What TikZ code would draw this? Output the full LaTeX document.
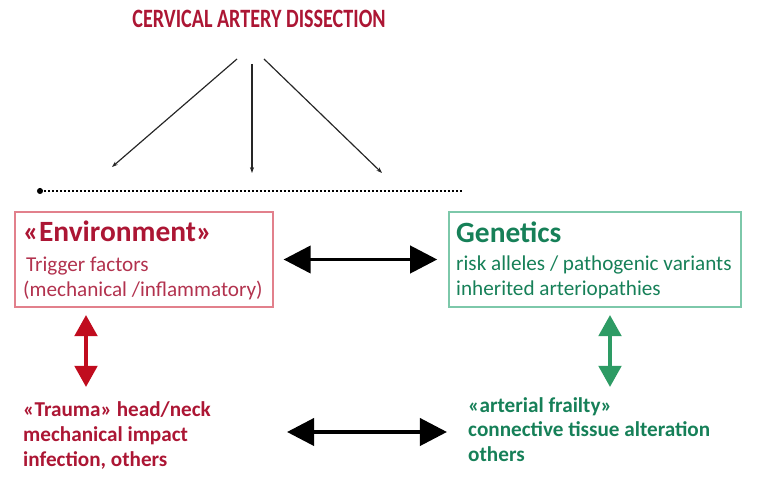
\documentclass[tikz,border=0pt]{standalone}
\usepackage{fontspec}
\setmainfont{Carlito}
\usetikzlibrary{arrows.meta}
\definecolor{cadred}{RGB}{172,22,52}
\definecolor{envred}{RGB}{178,50,78}
\definecolor{boxred}{RGB}{226,128,140}
\definecolor{arrred}{RGB}{192,12,30}
\definecolor{cadgreen}{RGB}{22,128,88}
\definecolor{boxgreen}{RGB}{125,200,170}
\definecolor{arrgreen}{RGB}{45,155,100}
\tikzset{
  line/.style={anchor=base west, inner sep=0pt},
  bigarrow/.style={line width=3.3pt, {Triangle[length=23pt,width=23pt]}-{Triangle[length=23pt,width=23pt]}},
  sidearrow/.style={line width=3.5pt, {Triangle[length=18pt,width=19pt]}-{Triangle[length=18pt,width=19pt]}},
  thinarrow/.style={line width=1pt, draw=black!85, -{Stealth[length=5pt,width=3.5pt]}}
}
\begin{document}
\begin{tikzpicture}[x=0.85pt,y=-0.85pt]
 	\useasboundingbox (0,0) rectangle (765,497);
 	% title
 	\node[anchor=base, inner sep=0pt, text=cadred, font=\fontsize{18}{21}\selectfont\bfseries] (title) at (259,28) {\scalebox{0.95}[1.25]{CERVICAL ARTERY DISSECTION}};
 	\coordinate (tl) at (237,59); \coordinate (tm) at (252,64); \coordinate (tr) at (264,59);
 	\coordinate (hl) at (112,167); \coordinate (hm) at (252,173); \coordinate (hr) at (382,173);
 	\draw[thinarrow] (tl) -- (hl);
 	\draw[thinarrow] (tm) -- (hm);
 	\draw[thinarrow] (tr) -- (hr);
 	\coordinate (dl) at (40,191); \coordinate (dr) at (463,191);
 	\draw[line width=2.4pt, dash pattern=on 1.8pt off 1.6pt] (dl) -- (dr);
 	\fill (dl) circle (2.6pt);
 	% boxes
 	\node[draw=boxred, line width=1pt, minimum width=258*0.85pt, minimum height=95*0.85pt] (envbox) at (144,259.5) {};
 	\node[draw=boxgreen, line width=1pt, minimum width=292*0.85pt, minimum height=95*0.85pt] (genbox) at (595,259.5) {};
 	\node[line, text=cadred, font=\fontsize{25}{29}\selectfont\bfseries] (env1) at (23,242) {«Environment»};
 	\node[line, text=envred, font=\fontsize{18}{21}\selectfont] (env2) at (26,272) {Trigger factors};
 	\node[line, text=envred, font=\fontsize{18}{21}\selectfont] (env3) at (23,297) {(mechanical /inflammatory)};
 	\node[line, text=cadgreen, font=\fontsize{25}{29}\selectfont\bfseries] (gen1) at (456,243) {Genetics};
 	\node[line, text=cadgreen, font=\fontsize{18}{21}\selectfont] (gen2) at (456,271) {risk alleles / pathogenic variants};
 	\node[line, text=cadgreen, font=\fontsize{18}{21}\selectfont] (gen3) at (456,296) {inherited arteriopathies};
 	% lower texts
 	\node[line, text=cadred, font=\fontsize{18}{21}\selectfont\bfseries] (tra1) at (23,417) {«Trauma» head/neck};
 	\node[line, text=cadred, font=\fontsize{18}{21}\selectfont\bfseries] (tra2) at (23,442) {mechanical impact};
 	\node[line, text=cadred, font=\fontsize{18}{21}\selectfont\bfseries] (tra3) at (23,467) {infection, others};
 	\node[line, text=cadgreen, font=\fontsize{18}{21}\selectfont\bfseries] (fra1) at (468,413) {«arterial frailty»};
 	\node[line, text=cadgreen, font=\fontsize{18}{21}\selectfont\bfseries] (fra2) at (468,437) {connective tissue alteration};
 	\node[line, text=cadgreen, font=\fontsize{18}{21}\selectfont\bfseries] (fra3) at (468,462) {others};
 	% arrows
 	\draw[bigarrow, shorten <=8.5pt, shorten >=9.5pt] (envbox.east) -- (genbox.west);
 	\coordinate (tral) at (287,432); \coordinate (frar) at (447,432);
 	\draw[bigarrow] (tral) -- (frar);
 	\coordinate (envs) at (86,315); \coordinate (tran) at (86,387);
 	\draw[sidearrow, draw=arrred, fill=arrred] (envs) -- (tran);
 	\coordinate (gens) at (610,315); \coordinate (fran) at (610,387);
 	\draw[sidearrow, draw=arrgreen, fill=arrgreen] (gens) -- (fran);
\end{tikzpicture}
\end{document}
